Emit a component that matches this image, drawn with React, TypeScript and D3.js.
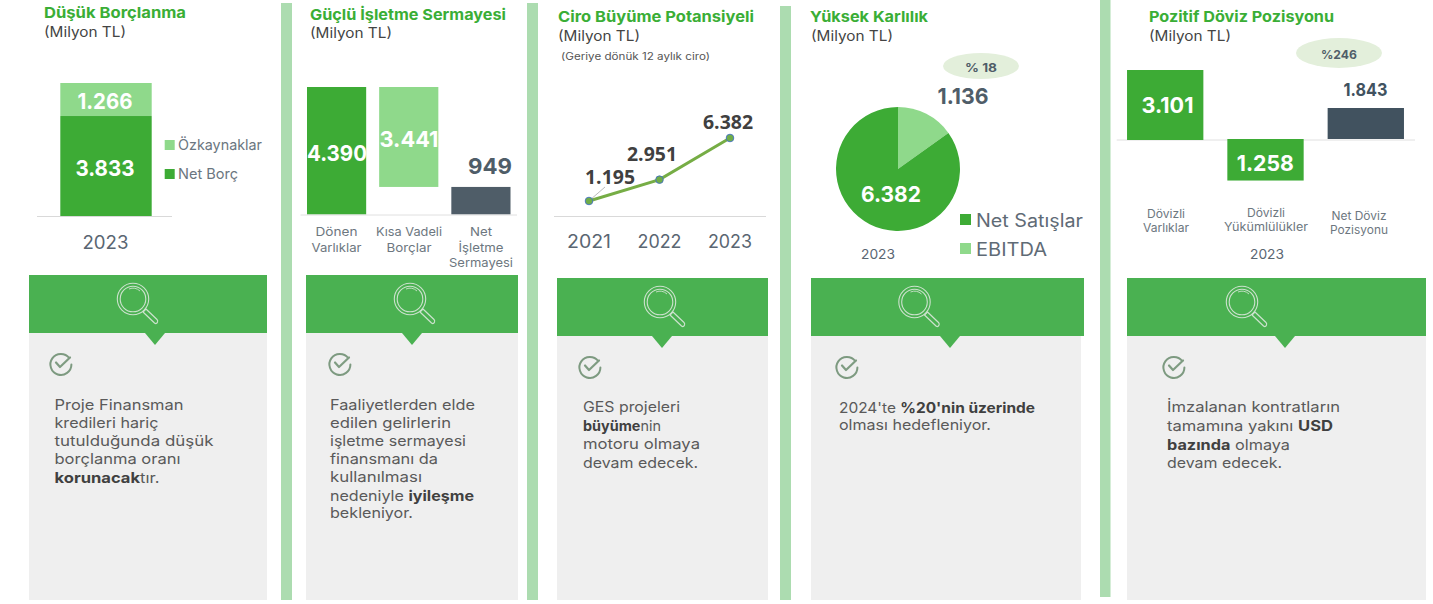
import React from "react";
import * as d3 from "d3";

const G_DARK = "#3dab35";
const G_LIGHT = "#8fd98b";
const SANS = "Inter, 'Open Sans', sans-serif";
const trFmt = d3.formatLocale({ decimal: ",", thousands: ".", grouping: [3], currency: ["", ""] }).format(",.0f");

// Chart 1
const debtYears = ["2023"];
const netDebt = [3833];
const equity = [1266];
// Chart 2
const wcCats = ["Dönen Varlıklar", "Kısa Vadeli Borçlar", "Net İşletme Sermayesi"];
const wcValues = [4390, 3441, 949];
// Chart 3
const revYears = ["2021", "2022", "2023"];
const revValues = [1195, 2951, 6382];
// Chart 4
const ebitda = 1136;
const netSales = 6382;
// Chart 5: the drawn bar heights in the picture do not match the printed labels,
// so the heights read off the bars and the printed figures are kept separately.
const fxCats = ["Dövizli Varlıklar", "Dövizli Yükümlülükler", "Net Döviz Pozisyonu"];
const fxBarHeights = [3101, 1840, 1373];
const fxLabels = ["3.101", "1.258", "1.843"];

const notes1 = ["Proje Finansman", "kredileri hariç", "tutulduğunda düşük", "borçlanma oranı", "**korunacak**tır."];
const notes2 = ["Faaliyetlerden elde", "edilen gelirlerin", "işletme sermayesi", "finansmanı da", "kullanılması", "nedeniyle **iyileşme**", "bekleniyor."];
const notes3 = ["GES projeleri", "**büyüme**nin", "motoru olmaya", "devam edecek."];
const notes4 = ["2024'te **%20'nin üzerinde**", "olması hedefleniyor."];
const notes5 = ["İmzalanan kontratların", "tamamına yakını **USD**", "**bazında** olmaya", "devam edecek."];

function T({ x, y, s, size = 14, w, bold, fill = "#444", anchor = "start", family = SANS, weight }: any) {
  const parts = s.split("**");
  return (
    <text x={x} y={y} fontSize={size} fontFamily={family} fill={fill} textAnchor={anchor}
      dominantBaseline="central" fontWeight={weight ?? (bold ? 700 : 400)}
      {...(w ? { textLength: w, lengthAdjust: "spacingAndGlyphs" } : {})}>
      {parts.length === 1 ? s : parts.map((p: string, i: number) => (
        <tspan key={i} fontWeight={i % 2 ? 700 : 400} fill={i % 2 ? "#404040" : fill}>{p}</tspan>
      ))}
    </text>
  );
}

function Magnifier({ cx, cy }: any) {
  return (
    <g fill="none" stroke="#dbe8db" opacity={0.9}>
      <circle cx={cx} cy={cy} r={15.7} strokeWidth={1.1} />
      <circle cx={cx} cy={cy} r={12.8} strokeWidth={1.1} />
      <path d={`M${cx + 7} ${cy - 8} A10.5 10.5 0 0 0 ${cx - 4} ${cy - 10}`} strokeWidth={0.9} />
      <path d={`M${cx + 10} ${cy + 13} L${cx + 21.5} ${cy + 24} Q${cx + 23.5} ${cy + 25.5} ${cx + 24.5} ${cy + 23} Q${cx + 25} ${cy + 21.5} ${cx + 24} ${cy + 20.5} L${cx + 13} ${cy + 10} Z`} strokeWidth={1.2} strokeLinejoin="round" />
    </g>
  );
}

function Check({ cx, cy }: any) {
  return (
    <g fill="none">
      <path d={`M${cx + 8.2} ${cy - 5.5} A10.5 10.5 0 1 0 ${cx + 10.4} ${cy + 1}`} strokeWidth={2} stroke="#7d9a80" strokeLinecap="round" />
      <path d={`M${cx - 5} ${cy - 1} L${cx - 1} ${cy + 3.5} L${cx + 9} ${cy - 6}`} strokeWidth={2.2} stroke="#7f9c82" strokeLinecap="round" strokeLinejoin="round" />
    </g>
  );
}

function Panel({ x0, x1, x1h, top, notch, iconX, checkX, textX, lines, firstY, step, widths }: any) {
  const hdrBottom = top + 58;
  return (
    <g>
      <rect x={x0} y={hdrBottom} width={x1 - x0} height={600 - hdrBottom} fill="#efefef" />
      <rect x={x0} y={top} width={x1h - x0} height={58} fill="#4ab151" />
      <path d={`M${notch - 10} ${hdrBottom} L${notch + 10} ${hdrBottom} L${notch} ${hdrBottom + 12} Z`} fill="#4ab151" />
      <Magnifier cx={iconX} cy={top + 24} />
      <Check cx={checkX} cy={top + 88.5} />
      {lines.map((l: string, i: number) => (
        <T key={i} x={textX} y={firstY + i * step} s={l} size={14.5} w={widths[i]} fill="#5a5a5a" />
      ))}
    </g>
  );
}

function ChartDebt() {
  const x = d3.scaleBand().domain(debtYears).range([37, 175]).paddingInner(0).paddingOuter(0.255);
  const y = d3.scaleLinear().domain([0, 5099]).range([216, 83]);
  const bx = x("2023")!, bw = x.bandwidth();
  return (
    <g>
      <rect x={bx} y={y(netDebt[0])} width={bw} height={y(0) - y(netDebt[0])} fill={G_DARK} />
      <rect x={bx} y={y(netDebt[0] + equity[0])} width={bw} height={y(0) - y(equity[0])} fill={G_LIGHT} />
      <line x1={37} x2={172} y1={216.5} y2={216.5} stroke="#d9d9d9" />
      <T x={105} y={101} s={trFmt(equity[0])} size={22} w={55} bold fill="#fff" anchor="middle" />
      <T x={105} y={167.5} s={trFmt(netDebt[0])} size={22} w={59} bold fill="#fff" anchor="middle" />
      <T x={105.5} y={242} s="2023" size={18} w={46} fill="#5a6672" anchor="middle" />
      <rect x={164.7} y={140} width={10} height={10} fill={G_LIGHT} />
      <T x={178} y={144} s="Özkaynaklar" size={14.5} w={84} fill="#6b7680" />
      <rect x={164.7} y={169} width={10} height={10} fill={G_DARK} />
      <T x={178} y={173} s="Net Borç" size={14.5} w={60} fill="#6b7680" />
    </g>
  );
}

function ChartWC() {
  const x = d3.scaleBand().domain(wcCats).range([300.5, 517]).paddingInner(0.18).paddingOuter(0.09);
  const y = d3.scaleLinear().domain([0, 4390]).range([214.5, 87]);
  const fills = [G_DARK, G_LIGHT, "#4f5d68"];
  const tops = [wcValues[0], wcValues[0], wcValues[2]];
  const lbl = [
    ["Dönen", "Varlıklar"],
    ["Kısa Vadeli", "Borçlar"],
    ["Net", "İşletme", "Sermayesi"],
  ];
  const lblW = [[42, 50], [66, 45], [22, 45, 64]];
  return (
    <g>
      {wcCats.map((c, i) => (
        <rect key={c} x={x(c)} y={y(tops[i])} width={x.bandwidth()} height={y(0) - y(wcValues[i])} fill={fills[i]} />
      ))}
      <line x1={300.5} x2={517} y1={215} y2={215} stroke="#e0e0e0" />
      <T x={337} y={153} s={trFmt(wcValues[0])} size={22} w={60} bold fill="#fff" anchor="middle" />
      <T x={409} y={139} s={trFmt(wcValues[1])} size={22} w={59} bold fill="#fff" anchor="middle" />
      <T x={490} y={165.5} s={trFmt(wcValues[2])} size={22} w={44} bold fill="#4f5d68" anchor="middle" />
      {lbl.map((ls, i) => ls.map((l, j) => (
        <T key={l} x={[336.5, 409, 481][i]} y={231.7 + j * 15.4} s={l} size={12} w={lblW[i][j]} fill="#6d7780" anchor="middle" />
      )))}
    </g>
  );
}

function ChartRevenue() {
  const x = d3.scalePoint().domain(revYears).range([589, 730]);
  const y = d3.scaleLinear().domain([0, 6382]).range([215.5, 138]);
  const line = d3.line<number>().x((_, i) => x(revYears[i])!).y((d) => y(d));
  const lx = [610, 652, 728], ly = [176, 153, 121];
  return (
    <g>
      <line x1={554} x2={766} y1={216.5} y2={216.5} stroke="#d9d9d9" />
      <line x1={590} y1={200} x2={605} y2={187} stroke="#bbb" />
      <path d={line(revValues)!} fill="none" stroke="#76ad45" strokeWidth={3} />
      {revValues.map((v, i) => (
        <circle key={i} cx={x(revYears[i])} cy={y(v)} r={3.8} fill="#70ad47" stroke="#4472c4" strokeWidth={0.9} />
      ))}
      {revValues.map((v, i) => (
        <T key={i} x={lx[i]} y={ly[i]} s={trFmt(v)} size={20} w={50} bold fill="#404040" anchor="middle" family="'Open Sans', sans-serif" />
      ))}
      {revYears.map((yr) => (
        <T key={yr} x={x(yr)} y={241} s={yr} size={18} w={44} fill="#5a6672" anchor="middle" />
      ))}
    </g>
  );
}

function ChartMargin() {
  const pie = d3.pie<number>().sort(null).value((d) => d)([ebitda, netSales]);
  const arc = d3.arc<any>().innerRadius(0).outerRadius(62);
  const cols = [G_LIGHT, G_DARK];
  return (
    <g>
      <ellipse cx={981} cy={66} rx={38} ry={13} fill="#e3efdb" />
      <T x={981} y={67} s="% 18" size={12} bold fill="#4f5d68" anchor="middle" w={32} />
      <T x={963} y={96} s={trFmt(ebitda)} size={22} bold w={51} fill="#4f5d68" anchor="middle" />
      <g transform="translate(898,169)">
        {pie.map((p, i) => <path key={i} d={arc(p)!} fill={cols[i]} />)}
      </g>
      <T x={891} y={194} s={trFmt(netSales)} size={22} w={60} bold fill="#fff" anchor="middle" />
      <T x={878} y={254} s="2023" size={13.5} w={34} fill="#5a6672" anchor="middle" />
      <rect x={960} y={214} width={11} height={11} fill={G_DARK} />
      <T x={976} y={220} s="Net Satışlar" size={18} w={107} fill="#5f6b76" />
      <rect x={960} y={243} width={11} height={11} fill={G_LIGHT} />
      <T x={976} y={249} s="EBITDA" size={18} w={71} fill="#5f6b76" />
    </g>
  );
}

function ChartFx() {
  const x = d3.scaleBand().domain(fxCats).range([1115, 1416]).paddingInner(0.239).paddingOuter(0.12);
  const h = d3.scaleLinear().domain([0, 3101]).range([0, 70]);
  const base = 140;
  const lbl = [["Dövizli", "Varlıklar"], ["Dövizli", "Yükümlülükler"], ["Net Döviz", "Pozisyonu"]];
  const lblW = [[38, 46], [38, 84], [55, 58]];
  const lblX = [1166, 1266, 1359];
  const lblY = [214, 213, 216];
  const fills = [G_DARK, G_DARK, "#41525f"];
  return (
    <g>
      <line x1={1116.7} x2={1415} y1={140} y2={140} stroke="#e0e0e0" />
      {fxCats.map((c, i) => (
        <rect key={c} x={x(c)} y={i === 1 ? base - 1 : base - h(fxBarHeights[i]) - (i === 2 ? 1 : 0)} width={x.bandwidth()} height={h(fxBarHeights[i])} fill={fills[i]} />
      ))}
      <T x={1167.5} y={105} s={fxLabels[0]} size={22} w={52} bold fill="#fff" anchor="middle" />
      <T x={1265.3} y={162.7} s={fxLabels[1]} size={22} w={57} bold fill="#fff" anchor="middle" />
      <T x={1365.5} y={89} s={fxLabels[2]} size={18} w={44} bold fill="#41525f" anchor="middle" />
      <ellipse cx={1339} cy={53} rx={43} ry={15} fill="#e3efdb" />
      <T x={1339} y={54.5} s="%246" size={12} w={36} bold fill="#4f5d68" anchor="middle" />
      {lbl.map((ls, i) => ls.map((l, j) => (
        <T key={i + l} x={lblX[i]} y={lblY[i] + j * 14} s={l} size={11.5} w={lblW[i][j]} fill="#6d7780" anchor="middle" />
      )))}
      <T x={1267} y={254} s="2023" size={13.5} w={34} fill="#5a6672" anchor="middle" />
    </g>
  );
}

const GREEN_TITLE = "#3aae36";

export default function App() {
  return (
    <svg width={1433} height={604} style={{ position: "absolute", left: 0, top: 0, background: "#fff" }}>
      {/* separators */}
      <rect x={281} y={3} width={11} height={597} fill="#acdcb0" />
      <rect x={527} y={3} width={11} height={597} fill="#acdcb0" />
      <rect x={780} y={6} width={11} height={594} fill="#acdcb0" />
      <rect x={1100} y={0} width={10.5} height={597} fill="#acdcb0" />

      <T x={44} y={12} s="Düşük Borçlanma" size={15} w={142} bold fill={GREEN_TITLE} />
      <T x={44} y={31} s="(Milyon TL)" size={14} w={82} fill="#444" />
      <T x={310} y={14} s="Güçlü İşletme Sermayesi" size={15} w={196} bold fill={GREEN_TITLE} />
      <T x={310} y={32} s="(Milyon TL)" size={14} w={82} fill="#444" />
      <T x={558} y={16} s="Ciro Büyüme Potansiyeli" size={15} w={196} bold fill={GREEN_TITLE} />
      <T x={558} y={35} s="(Milyon TL)" size={14} w={82} fill="#444" />
      <T x={561} y={56} s="(Geriye dönük 12 aylık ciro)" size={10} w={149} fill="#555" />
      <T x={810} y={16} s="Yüksek Karlılık" size={15} w={118} bold fill={GREEN_TITLE} />
      <T x={811} y={35} s="(Milyon TL)" size={14} w={82} fill="#444" />
      <T x={1149} y={16} s="Pozitif Döviz Pozisyonu" size={15} w={185} bold fill={GREEN_TITLE} />
      <T x={1149} y={35} s="(Milyon TL)" size={14} w={82} fill="#444" />

      <ChartDebt />
      <ChartWC />
      <ChartRevenue />
      <ChartMargin />
      <ChartFx />

      <Panel x0={29} x1={267} x1h={267} top={275} notch={155} iconX={133} checkX={61} textX={54.5} lines={notes1} firstY={404.5} step={18} widths={[129, 104, 159, 126, 105]} />
      <Panel x0={306} x1={518} x1h={518} top={275} notch={412} iconX={410} checkX={340} textX={330} lines={notes2} firstY={404.5} step={18} widths={[145, 121, 136, 108, 92, 144, 83]} />
      <Panel x0={557} x1={768} x1h={768} top={278} notch={662} iconX={660} checkX={590} textX={583} lines={notes3} firstY={406.5} step={18.5} widths={[97, 78, 117, 115]} />
      <Panel x0={811} x1={1081} x1h={1084} top={278} notch={950} iconX={914.5} checkX={847} textX={839} lines={notes4} firstY={406.5} step={18} widths={[196, 152]} />
      <Panel x0={1127} x1={1426} x1h={1426} top={278} notch={1285} iconX={1242} checkX={1174} textX={1167} lines={notes5} firstY={406.5} step={18.7} widths={[173, 166, 123, 115]} />
    </svg>
  );
}
